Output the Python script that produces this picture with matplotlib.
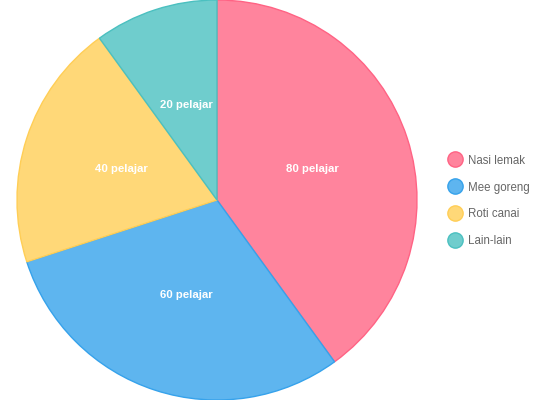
import matplotlib
matplotlib.use('Agg')
import matplotlib.pyplot as plt
from matplotlib.lines import Line2D

categories = ['Nasi lemak', 'Mee goreng', 'Roti canai', 'Lain-lain']
values = [80, 60, 40, 20]
fill_colors = ['#FF849D', '#5EB5EF', '#FFD878', '#6FCDCD']
edge_colors = ['#FF6384', '#36A2EB', '#FFCE56', '#4BC0C0']

plt.rcParams['font.family'] = ['Liberation Sans', 'DejaVu Sans']

fig = plt.figure(figsize=(5.35, 4.0), dpi=100)
ax = fig.add_axes([17 / 535, 0, 400 / 535, 1])

wedges, texts = ax.pie(values, colors=fill_colors, startangle=90, counterclock=False,
                       radius=1.0, labels=[f'{v} pelajar' for v in values],
                       labeldistance=0.5,
                       wedgeprops=dict(linewidth=1))
for w, ec in zip(wedges, edge_colors):
    w.set_edgecolor(ec)
for t in texts:
    t.set_color('white')
    t.set_fontweight('bold')
    t.set_fontsize(8.2)
    t.set_ha('center')
    t.set_va('center')
ax.set_xlim(-1.0, 1.0)
ax.set_ylim(-1.0, 1.0)
ax.set_aspect('equal')

handles = [Line2D([0], [0], marker='o', linestyle='', markersize=11,
                  markerfacecolor=fc, markeredgecolor=ec, markeredgewidth=1)
           for fc, ec in zip(fill_colors, edge_colors)]
leg = fig.legend(handles, categories, loc='center left', bbox_to_anchor=(440 / 535, 199 / 400),
                 frameon=False, fontsize=8.3, labelcolor='#666666', handletextpad=0.35,
                 handlelength=1.6, labelspacing=1.3, borderpad=0)

fig.savefig('out.png', dpi=100)
